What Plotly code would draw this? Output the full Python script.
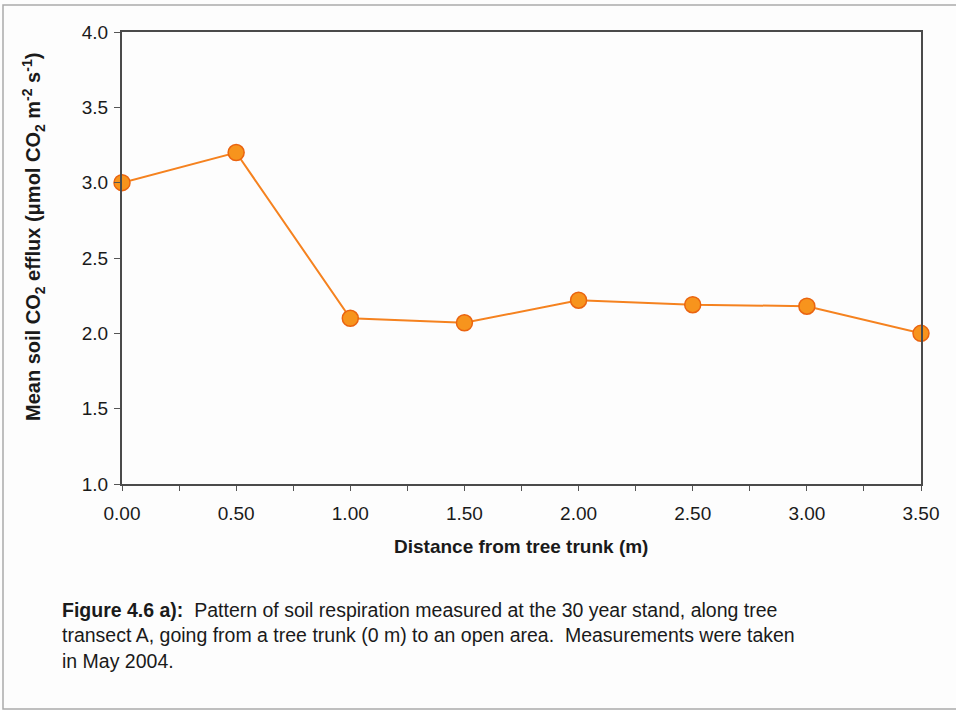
import plotly.graph_objects as go

distance = [0.0, 0.5, 1.0, 1.5, 2.0, 2.5, 3.0, 3.5]
efflux = [3.00, 3.20, 2.10, 2.07, 2.22, 2.19, 2.18, 2.00]
x_tick_vals = [0.0, 0.5, 1.0, 1.5, 2.0, 2.5, 3.0, 3.5]
x_tick_text = ["0.00", "0.50", "1.00", "1.50", "2.00", "2.50", "3.00", "3.50"]
y_tick_vals = [1.0, 1.5, 2.0, 2.5, 3.0, 3.5, 4.0]
y_tick_text = ["1.0", "1.5", "2.0", "2.5", "3.0", "3.5", "4.0"]

W, H = 956, 710
L, R, T, B = 122, 35, 32, 226
pw, ph = W - L - R, H - T - B

def px(x):
    return (x - L) / pw

def py(y):
    return (H - B - y) / ph

fig = go.Figure()
fig.add_trace(go.Scatter(
    x=distance, y=efflux, mode="lines+markers",
    line=dict(color="#f5821f", width=2),
    marker=dict(size=16, color="#f7941d", line=dict(color="#ea6410", width=1.5)),
    cliponaxis=False, showlegend=False,
))

font = "Liberation Sans, Arial, sans-serif"
fig.update_layout(
    width=W, height=H,
    margin=dict(l=L, r=R, t=T, b=B),
    paper_bgcolor="#fdfdfd", plot_bgcolor="#fdfdfd",
    font=dict(family=font, size=19, color="#1a1a1a"),
    xaxis=dict(
        range=[0, 3.5], tickvals=x_tick_vals, ticktext=x_tick_text,
        ticks="outside", ticklen=5, tickcolor="#555", tickwidth=1,
        minor=dict(ticks="outside", dtick=0.25, tick0=0, ticklen=5, tickcolor="#555"),
        showgrid=False, zeroline=False,
        showline=True, linecolor="#4a4a4a", linewidth=2, mirror=True,
        tickfont=dict(size=19), ticklabelstandoff=6,
    ),
    yaxis=dict(
        range=[1, 4], tickvals=y_tick_vals, ticktext=y_tick_text,
        ticks="outside", ticklen=6, tickcolor="#555", tickwidth=1,
        showgrid=False, zeroline=False,
        showline=True, linecolor="#4a4a4a", linewidth=2, mirror=True,
        tickfont=dict(size=19), ticklabelstandoff=2,
    ),
)

fig.add_annotation(
    xref="paper", yref="paper", x=px(521), y=py(546),
    text="<b>Distance from tree trunk (m)</b>", showarrow=False,
    font=dict(size=19), xanchor="center", yanchor="middle",
)
fig.add_annotation(
    xref="paper", yref="paper", x=px(33), y=py(237),
    text="<b>Mean soil CO<sub>2</sub> efflux (\u03bcmol CO<sub>2</sub> m<sup>-2</sup> s<sup>-1</sup>)</b>",
    showarrow=False, textangle=-90, font=dict(size=20),
    xanchor="center", yanchor="middle",
)
fig.add_annotation(
    xref="paper", yref="paper", x=px(60), y=py(597),
    text=("<b>Figure 4.6 a):</b>  Pattern of soil respiration measured at the 30 year stand, along tree<br>"
          "transect A, going from a tree trunk (0 m) to an open area.  Measurements were taken<br>"
          "in May 2004."),
    showarrow=False, align="left", xanchor="left", yanchor="top",
    font=dict(size=19.5, family="Liberation Sans Narrow, Arial Narrow, Liberation Sans, sans-serif"),
)

fig.add_shape(
    type="rect", xref="paper", yref="paper",
    x0=px(3), x1=px(980), y0=py(709), y1=py(5),
    line=dict(color="#aaaaaa", width=1.5), layer="below",
)

fig.write_html("out.html", config={"displayModeBar": False},
               post_script="document.body.style.margin='0';document.body.style.overflow='hidden';")
